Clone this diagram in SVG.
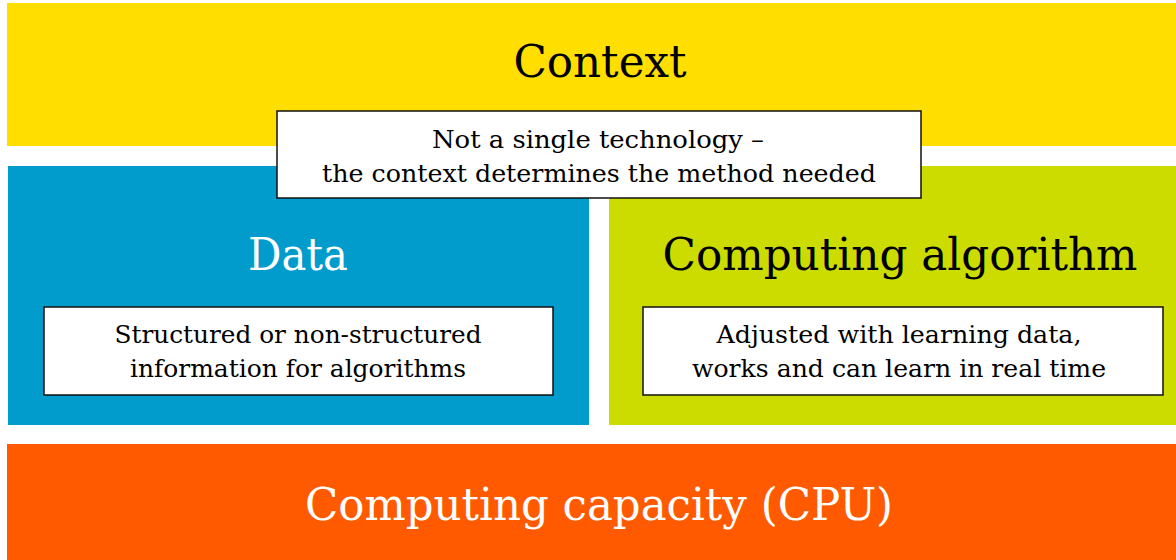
<svg xmlns="http://www.w3.org/2000/svg" width="1176" height="560" viewBox="0 0 1176 560">
<style>
.t{font-family:"DejaVu Serif","Liberation Serif",serif;text-anchor:middle}
.big{font-size:44px}
.small{font-size:24px;fill:#000}
.box{fill:#fff;stroke:#111;stroke-width:1.5}
</style>
<rect x="0" y="0" width="1176" height="560" fill="#fff"/>
<g id="context">
<rect x="7" y="3" width="1169" height="143" fill="#FFDE00"/>
<text class="t big" x="600" y="77" fill="#000" textLength="173" lengthAdjust="spacingAndGlyphs">Context</text>
</g>
<g id="data">
<rect x="8" y="166" width="581" height="259" fill="#019BCC"/>
<text class="t big" x="298" y="270" fill="#fff" textLength="100" lengthAdjust="spacingAndGlyphs">Data</text>
<rect class="box" x="44" y="307" width="509" height="88"/>
<text class="t small" x="298" y="343" textLength="367" lengthAdjust="spacingAndGlyphs">Structured or non-structured</text>
<text class="t small" x="298" y="377" textLength="336" lengthAdjust="spacingAndGlyphs">information for algorithms</text>
</g>
<g id="algorithm">
<rect x="609" y="166" width="567" height="259" fill="#CCDC00"/>
<text class="t big" x="900" y="270" fill="#000" textLength="475" lengthAdjust="spacingAndGlyphs">Computing algorithm</text>
<rect class="box" x="643" y="307" width="520" height="88"/>
<text class="t small" x="899" y="343" textLength="365" lengthAdjust="spacingAndGlyphs">Adjusted with learning data,</text>
<text class="t small" x="899" y="377" textLength="414" lengthAdjust="spacingAndGlyphs">works and can learn in real time</text>
</g>
<g id="capacity">
<rect x="7" y="444" width="1169" height="116" fill="#FF5A00"/>
<text class="t big" x="599" y="520" fill="#fff" textLength="588" lengthAdjust="spacingAndGlyphs">Computing capacity (CPU)</text>
</g>
<g id="context-note">
<rect class="box" x="277" y="111" width="644" height="87"/>
<text class="t small" x="598" y="148" textLength="332" lengthAdjust="spacingAndGlyphs">Not a single technology –</text>
<text class="t small" x="599" y="182" textLength="554" lengthAdjust="spacingAndGlyphs">the context determines the method needed</text>
</g>
<g id="connectors"/>
</svg>
